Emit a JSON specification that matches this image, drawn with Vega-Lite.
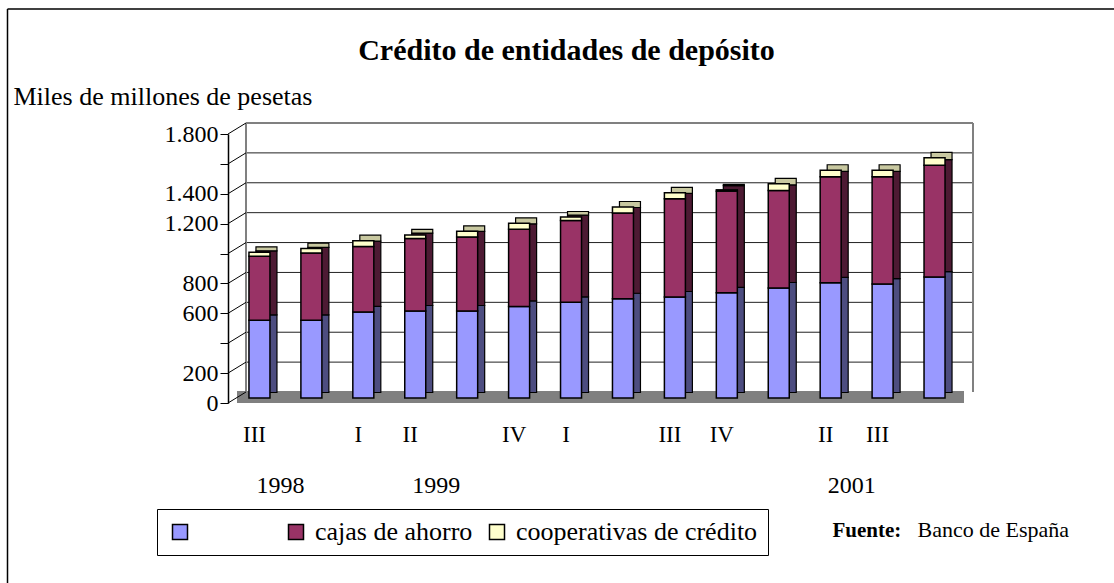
{
  "$schema": "https://vega.github.io/schema/vega-lite/v6.json",
  "autosize": "none",
  "width": 727,
  "height": 269,
  "padding": {"left": 237, "top": 134, "right": 150, "bottom": 180},
  "background": "white",
  "config": {
    "font": "Liberation Serif",
    "view": {"stroke": null},
    "axis": {"labelFont": "Liberation Serif", "titleFont": "Liberation Serif", "labelColor": "black", "titleColor": "black"}
  },
  "title": {
    "text": "Crédito de entidades de depósito",
    "font": "Liberation Serif",
    "fontSize": 30,
    "fontWeight": "bold",
    "color": "black",
    "anchor": "middle",
    "baseline": "alphabetic",
    "offset": 0,
    "dx": -34,
    "dy": 82
  },
  "datasets": {
    "credito": [
      {"i": 1, "año": 1998, "trimestre": "III", "serie": "bancos", "valor": 520},
      {"i": 1, "año": 1998, "trimestre": "III", "serie": "cajas de ahorro", "valor": 428},
      {"i": 1, "año": 1998, "trimestre": "III", "serie": "cooperativas de crédito", "valor": 27},
      {"i": 2, "año": 1998, "trimestre": "IV", "serie": "bancos", "valor": 520},
      {"i": 2, "año": 1998, "trimestre": "IV", "serie": "cajas de ahorro", "valor": 451},
      {"i": 2, "año": 1998, "trimestre": "IV", "serie": "cooperativas de crédito", "valor": 29},
      {"i": 3, "año": 1999, "trimestre": "I", "serie": "bancos", "valor": 576},
      {"i": 3, "año": 1999, "trimestre": "I", "serie": "cajas de ahorro", "valor": 437},
      {"i": 3, "año": 1999, "trimestre": "I", "serie": "cooperativas de crédito", "valor": 40},
      {"i": 4, "año": 1999, "trimestre": "II", "serie": "bancos", "valor": 582},
      {"i": 4, "año": 1999, "trimestre": "II", "serie": "cajas de ahorro", "valor": 485},
      {"i": 4, "año": 1999, "trimestre": "II", "serie": "cooperativas de crédito", "valor": 24},
      {"i": 5, "año": 1999, "trimestre": "III", "serie": "bancos", "valor": 582},
      {"i": 5, "año": 1999, "trimestre": "III", "serie": "cajas de ahorro", "valor": 496},
      {"i": 5, "año": 1999, "trimestre": "III", "serie": "cooperativas de crédito", "valor": 37},
      {"i": 6, "año": 1999, "trimestre": "IV", "serie": "bancos", "valor": 613},
      {"i": 6, "año": 1999, "trimestre": "IV", "serie": "cajas de ahorro", "valor": 516},
      {"i": 6, "año": 1999, "trimestre": "IV", "serie": "cooperativas de crédito", "valor": 40},
      {"i": 7, "año": 2000, "trimestre": "I", "serie": "bancos", "valor": 640},
      {"i": 7, "año": 2000, "trimestre": "I", "serie": "cajas de ahorro", "valor": 547},
      {"i": 7, "año": 2000, "trimestre": "I", "serie": "cooperativas de crédito", "valor": 24},
      {"i": 8, "año": 2000, "trimestre": "II", "serie": "bancos", "valor": 664},
      {"i": 8, "año": 2000, "trimestre": "II", "serie": "cajas de ahorro", "valor": 574},
      {"i": 8, "año": 2000, "trimestre": "II", "serie": "cooperativas de crédito", "valor": 40},
      {"i": 9, "año": 2000, "trimestre": "III", "serie": "bancos", "valor": 676},
      {"i": 9, "año": 2000, "trimestre": "III", "serie": "cajas de ahorro", "valor": 657},
      {"i": 9, "año": 2000, "trimestre": "III", "serie": "cooperativas de crédito", "valor": 40},
      {"i": 10, "año": 2000, "trimestre": "IV", "serie": "bancos", "valor": 704},
      {"i": 10, "año": 2000, "trimestre": "IV", "serie": "cajas de ahorro", "valor": 680},
      {"i": 10, "año": 2000, "trimestre": "IV", "serie": "cooperativas de crédito", "valor": 9},
      {"i": 11, "año": 2001, "trimestre": "I", "serie": "bancos", "valor": 736},
      {"i": 11, "año": 2001, "trimestre": "I", "serie": "cajas de ahorro", "valor": 653},
      {"i": 11, "año": 2001, "trimestre": "I", "serie": "cooperativas de crédito", "valor": 44},
      {"i": 12, "año": 2001, "trimestre": "II", "serie": "bancos", "valor": 771},
      {"i": 12, "año": 2001, "trimestre": "II", "serie": "cajas de ahorro", "valor": 709},
      {"i": 12, "año": 2001, "trimestre": "II", "serie": "cooperativas de crédito", "valor": 44},
      {"i": 13, "año": 2001, "trimestre": "III", "serie": "bancos", "valor": 762},
      {"i": 13, "año": 2001, "trimestre": "III", "serie": "cajas de ahorro", "valor": 718},
      {"i": 13, "año": 2001, "trimestre": "III", "serie": "cooperativas de crédito", "valor": 44},
      {"i": 14, "año": 2001, "trimestre": "IV", "serie": "bancos", "valor": 809},
      {"i": 14, "año": 2001, "trimestre": "IV", "serie": "cajas de ahorro", "valor": 749},
      {"i": 14, "año": 2001, "trimestre": "IV", "serie": "cooperativas de crédito", "valor": 49}
    ],
    "marcas": [
      {"v": 0}, {"v": 200}, {"v": 400}, {"v": 600}, {"v": 800},
      {"v": 1000}, {"v": 1200}, {"v": 1400}, {"v": 1600}, {"v": 1800}
    ]
  },
  "layer": [
    {
      "data": {"name": "marcas"},
      "transform": [{"filter": "datum.v == 1800"}],
      "mark": {"type": "rule", "stroke": "black", "strokeWidth": 1.5, "xOffset": -229.5, "x2Offset": 200, "yOffset": -125},
      "encoding": {
        "x": {"datum": 0.5, "type": "quantitative", "scale": {"domain": [0.5, 14.5], "nice": false, "zero": false, "padding": 0}, "axis": null},
        "x2": {"datum": 14.5},
        "y": {"datum": 1800, "type": "quantitative", "scale": {"domain": [0, 1800], "nice": false}, "axis": null}
      }
    },
    {
      "data": {"name": "marcas"},
      "transform": [{"filter": "datum.v == 1800"}],
      "mark": {"type": "rule", "stroke": "black", "strokeWidth": 1.5, "xOffset": -229.5, "yOffset": -125, "y2Offset": 200},
      "encoding": {
        "x": {"datum": 0.5, "type": "quantitative", "scale": {"domain": [0.5, 14.5], "nice": false, "zero": false, "padding": 0}, "axis": null},
        "y": {"datum": 1800, "type": "quantitative", "scale": {"domain": [0, 1800], "nice": false}, "axis": null},
        "y2": {"datum": 0}
      }
    },
    {
      "data": {"name": "marcas"},
      "transform": [{"filter": "datum.v > 0 && datum.v < 1800"}],
      "mark": {"type": "rule", "stroke": "#222222", "strokeWidth": 1, "xOffset": 9, "x2Offset": 9, "yOffset": -11},
      "encoding": {
        "x": {"datum": 0.5, "type": "quantitative", "scale": {"domain": [0.5, 14.5], "nice": false, "zero": false, "padding": 0}, "axis": null},
        "x2": {"datum": 14.5},
        "y": {"field": "v", "type": "quantitative", "scale": {"domain": [0, 1800], "nice": false}, "axis": null}
      }
    },
    {
      "data": {"name": "marcas"},
      "transform": [{"filter": "datum.v == 1800"}],
      "mark": {"type": "rule", "stroke": "#808080", "strokeWidth": 2, "xOffset": 9, "x2Offset": 9, "yOffset": -11},
      "encoding": {
        "x": {"datum": 0.5, "type": "quantitative", "scale": {"domain": [0.5, 14.5], "nice": false, "zero": false, "padding": 0}, "axis": null},
        "x2": {"datum": 14.5},
        "y": {"field": "v", "type": "quantitative", "scale": {"domain": [0, 1800], "nice": false}, "axis": null}
      }
    },
    {
      "data": {"name": "marcas"},
      "transform": [{"filter": "datum.v == 1800"}],
      "mark": {"type": "rule", "stroke": "#808080", "strokeWidth": 2, "xOffset": 9, "yOffset": -11, "y2Offset": -11},
      "encoding": {
        "x": {"datum": 0.5, "type": "quantitative", "scale": {"domain": [0.5, 14.5], "nice": false, "zero": false, "padding": 0}, "axis": null},
        "y": {"datum": 1800, "type": "quantitative", "scale": {"domain": [0, 1800], "nice": false}, "axis": null},
        "y2": {"datum": 0}
      }
    },
    {
      "data": {"name": "marcas"},
      "transform": [{"filter": "datum.v == 1800"}],
      "mark": {"type": "rule", "stroke": "#808080", "strokeWidth": 2, "xOffset": 9, "yOffset": -11, "y2Offset": -11},
      "encoding": {
        "x": {"datum": 14.5, "type": "quantitative", "scale": {"domain": [0.5, 14.5], "nice": false, "zero": false, "padding": 0}, "axis": null},
        "y": {"datum": 1800, "type": "quantitative", "scale": {"domain": [0, 1800], "nice": false}, "axis": null},
        "y2": {"datum": 0}
      }
    },
    {
      "data": {"name": "marcas"},
      "transform": [{"filter": "datum.v == 0"}],
      "mark": {"type": "rule", "stroke": "#808080", "strokeWidth": 12, "yOffset": -6},
      "encoding": {
        "x": {"datum": 0.5, "type": "quantitative", "scale": {"domain": [0.5, 14.5], "nice": false, "zero": false, "padding": 0}, "axis": null},
        "x2": {"datum": 14.5},
        "y": {"field": "v", "type": "quantitative", "scale": {"domain": [0, 1800], "nice": false}, "axis": null}
      }
    },
    {
      "data": {"name": "marcas"},
      "mark": {"type": "rule", "stroke": "black", "strokeWidth": 1, "xOffset": -9, "x2Offset": 9, "y2Offset": -11},
      "encoding": {
        "x": {"datum": 0.5, "type": "quantitative", "scale": {"domain": [0.5, 14.5], "nice": false, "zero": false, "padding": 0}, "axis": null},
        "x2": {"datum": 0.5},
        "y": {"field": "v", "type": "quantitative", "scale": {"domain": [0, 1800], "nice": false}, "axis": null},
        "y2": {"field": "v"}
      }
    },
    {
      "data": {"name": "credito"},
      "mark": {"type": "bar", "orient": "vertical", "width": 21, "xOffset": 3.5, "yOffset": -10.5, "y2Offset": -10.5, "stroke": "black", "strokeWidth": 1.2},
      "encoding": {
        "x": {
          "field": "i", "type": "quantitative",
          "scale": {"domain": [0.5, 14.5], "nice": false, "zero": false, "padding": 0},
          "axis": {
            "values": [1.5, 4.5, 12.5],
            "labelExpr": "datum.value == 1.5 ? '1998' : datum.value == 4.5 ? '1999' : '2001'",
            "orient": "bottom", "offset": 0,
            "domain": false, "ticks": false, "grid": false,
            "labelFontSize": 24, "labelPadding": 70, "labelOffset": -9,
            "labelFlush": false, "labelOverlap": false,
            "title": "Banco de España", "titleFontSize": 22, "titleFontWeight": "normal",
            "titleX": 680, "titleY": 133, "titleAlign": "left", "titleBaseline": "alphabetic", "titleAnchor": "start"
          }
        },
        "y": {"field": "valor", "type": "quantitative", "stack": "zero", "scale": {"domain": [0, 1800], "nice": false}, "axis": null},
        "order": {"field": "serie", "sort": "ascending"},
        "color": {
          "field": "serie", "type": "nominal",
          "scale": {"domain": ["bancos", "cajas de ahorro", "cooperativas de crédito"], "range": ["#4D4D80", "#4D1A33", "#C8C8A0"]},
          "legend": null
        }
      }
    },
    {
      "data": {"name": "credito"},
      "mark": {"type": "bar", "orient": "vertical", "width": 21, "xOffset": -3.5, "yOffset": -5, "y2Offset": -5, "stroke": "black", "strokeWidth": 1.5},
      "encoding": {
        "x": {
          "field": "i", "type": "quantitative",
          "scale": {"domain": [0.5, 14.5], "nice": false, "zero": false, "padding": 0},
          "axis": {
            "values": [1, 2, 3, 4, 5, 6, 7, 8, 9, 10, 11, 12, 13, 14],
            "labelExpr": "['III','','I','II','','IV','I','','III','IV','','II','III',''][datum.value - 1]",
            "orient": "bottom", "offset": 0,
            "domain": false, "ticks": false, "grid": false,
            "labelFontSize": 23, "labelPadding": 20, "labelOffset": -9,
            "labelFlush": false, "labelOverlap": false,
            "title": "Fuente:", "titleFontSize": 21, "titleFontWeight": "bold",
            "titleX": 595, "titleY": 133, "titleAlign": "left", "titleBaseline": "alphabetic", "titleAnchor": "start"
          }
        },
        "y": {
          "field": "valor", "type": "quantitative", "stack": "zero",
          "scale": {"domain": [0, 1800], "nice": false},
          "axis": {
            "values": [0, 200, 400, 600, 800, 1000, 1200, 1400, 1600, 1800],
            "labelExpr": "datum.value == 400 || datum.value == 1000 || datum.value == 1600 ? '' : replace(format(datum.value, ','), ',', '.')",
            "offset": 9, "grid": false,
            "domainColor": "black", "domainWidth": 1.5,
            "tickColor": "black", "tickSize": 8, "tickWidth": 1,
            "labelFontSize": 24, "labelPadding": 2, "labelOverlap": false,
            "title": "Miles de millones de pesetas", "titleFontSize": 26, "titleFontWeight": "normal",
            "titleAngle": 0, "titleX": -215, "titleY": -30, "titleAlign": "left", "titleBaseline": "alphabetic", "titleAnchor": "start"
          }
        },
        "order": {"field": "serie", "sort": "ascending"},
        "color": {
          "field": "serie", "type": "nominal",
          "scale": {"domain": ["bancos", "cajas de ahorro", "cooperativas de crédito"], "range": ["#9999FF", "#993366", "#FFFFCC"]},
          "legend": {
            "orient": "none", "legendX": -80, "legendY": 375,
            "direction": "horizontal", "title": null,
            "labelColor": {"expr": "datum.label == 'bancos' ? 'rgba(0,0,0,0)' : 'black'"},
            "symbolType": "square", "symbolSize": 225, "symbolStrokeColor": "black", "symbolStrokeWidth": 1.5,
            "labelFont": "Liberation Serif", "labelFontSize": 26, "labelOffset": 6, "labelLimit": 400,
            "columnPadding": 11, "padding": 10,
            "strokeColor": "black", "fillColor": "white"
          }
        }
      }
    }
  ],
  "resolve": {"scale": {"color": "independent"}, "axis": {"x": "independent", "y": "independent"}}
}
